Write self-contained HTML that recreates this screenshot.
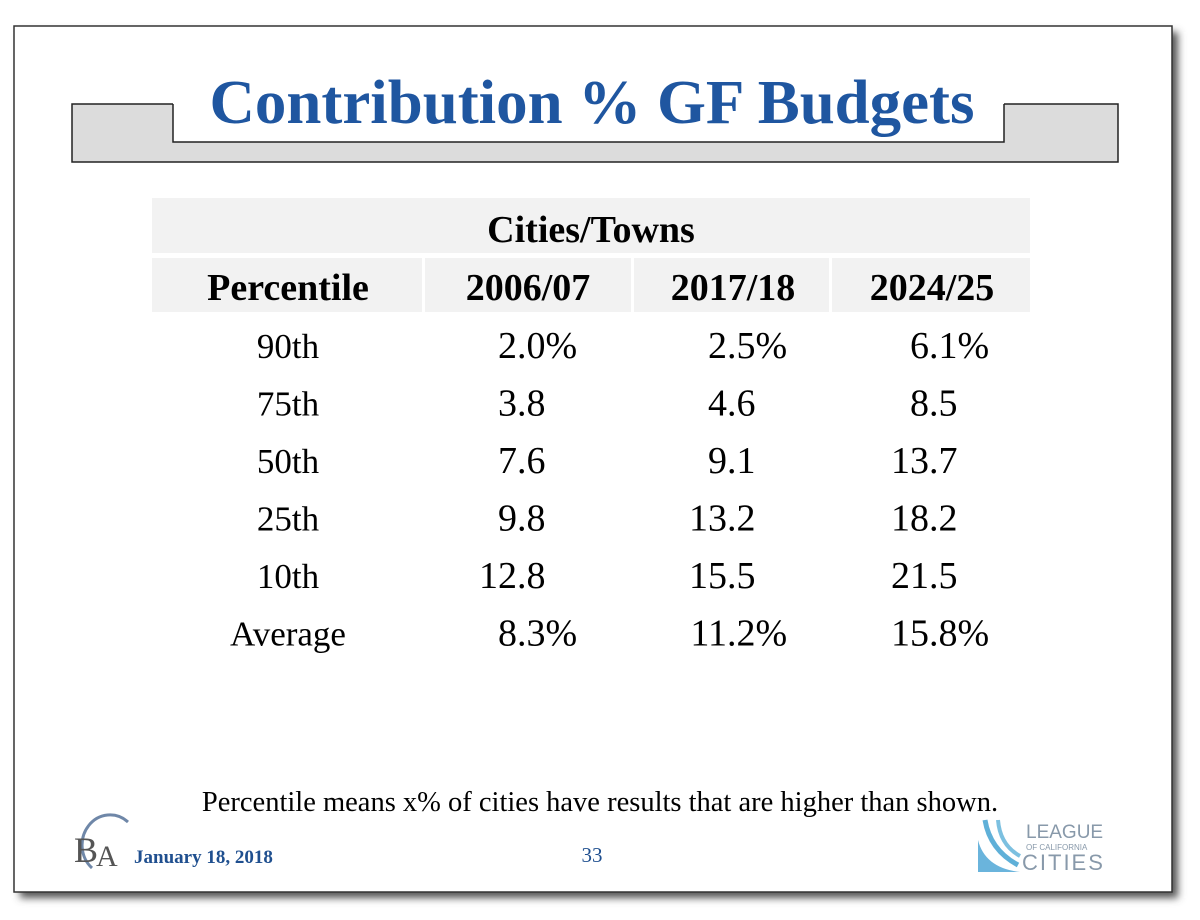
<!DOCTYPE html>
<html><head><meta charset="utf-8"><style>
html,body{margin:0;padding:0;background:#fff;}
svg{display:block;font-family:"Liberation Serif",serif;}
</style></head><body>
<svg width="1200" height="920" viewBox="0 0 1200 920">
  <defs><filter id="sh" x="-5%" y="-5%" width="115%" height="115%"><feGaussianBlur stdDeviation="4"/></filter></defs>
  <rect x="20" y="32" width="1158" height="866" fill="#555" filter="url(#sh)"/>
  <rect x="14" y="26" width="1158" height="866" fill="#fff" stroke="#333" stroke-width="1.5"/>
  <g>
    <rect x="72" y="104" width="1046" height="58" fill="#dcdcdc" stroke="#222" stroke-width="1.5"/>
    <rect x="173" y="60" width="831" height="82" fill="#fff"/>
    <path d="M173 104 V142 H1004 V104" fill="none" stroke="#222" stroke-width="1.5"/>
    <rect x="175" y="60" width="827" height="46" fill="#fff"/>
  </g>
  <text x="592" y="123" text-anchor="middle" font-size="62" font-weight="bold" fill="#1f56a0" textLength="765" lengthAdjust="spacingAndGlyphs">Contribution % GF Budgets</text>
  <g id="tbl">
    <rect x="152" y="198" width="878" height="55" fill="#f2f2f2"/>
    <text x="591" y="242" text-anchor="middle" font-size="38" font-weight="bold">Cities/Towns</text>
    <rect x="152" y="258" width="270" height="54" fill="#f2f2f2"/>
    <rect x="425" y="258" width="206" height="54" fill="#f2f2f2"/>
    <rect x="634" y="258" width="195" height="54" fill="#f2f2f2"/>
    <rect x="832" y="258" width="198" height="54" fill="#f2f2f2"/>
    <text x="288" y="300" text-anchor="middle" font-size="38" font-weight="bold">Percentile</text>
  </g>
  <text x="600" y="811" text-anchor="middle" font-size="28.5">Percentile means x% of cities have results that are higher than shown.</text>
  <g>
    <path d="M92 868 A26 28 0 0 1 128 822" fill="none" stroke="#6f87a8" stroke-width="3"/>
    <text x="74" y="862" font-size="36" fill="#555">B</text>
    <text x="96" y="866" font-size="30" fill="#555">A</text>
  </g>
  <text x="134" y="863" font-size="19" font-weight="bold" fill="#1f4f8f">January 18, 2018</text>
  <text x="592" y="862" text-anchor="middle" font-size="21" fill="#1f4f8f">33</text>
  <g>
    <path d="M985 820 Q990 850 1018 865" fill="none" stroke="#5fb0d8" stroke-width="5"/>
    <path d="M998 820 Q1000 845 1020 856" fill="none" stroke="#7cc0e0" stroke-width="4"/>
    <path d="M978 840 Q985 868 1020 872 L978 872 Z" fill="#6ab4dc"/>
    <text x="1026" y="838" font-family="Liberation Sans,sans-serif" font-size="19" fill="#8899aa">LEAGUE</text>
    <text x="1026" y="850" font-family="Liberation Sans,sans-serif" font-size="8" fill="#8899aa">OF CALIFORNIA</text>
    <text x="1022" y="870" font-family="Liberation Sans,sans-serif" font-size="22" fill="#8899aa" letter-spacing="2">CITIES</text>
  </g>
</svg>
<script>
const years = ["2006/07","2017/18","2024/25"];
const percentiles = ["90th","75th","50th","25th","10th","Average"];
const col2006 = ["2.0%","3.8","7.6","9.8","12.8","8.3%"];
const col2017 = ["2.5%","4.6","9.1","13.2","15.5","11.2%"];
const col2024 = ["6.1%","8.5","13.7","18.2","21.5","15.8%"];
const cols = [col2006, col2017, col2024];
const NS = "http://www.w3.org/2000/svg";
const g = document.getElementById("tbl");
const headerX = [528, 733, 932];
const decX = [517, 727, 929];
const rowY = (i) => 358 + i * 57.5;
function txt(x, y, s, anchor, size, bold) {
  const t = document.createElementNS(NS, "text");
  t.setAttribute("x", x); t.setAttribute("y", y);
  t.setAttribute("text-anchor", anchor);
  t.setAttribute("font-size", size);
  if (bold) t.setAttribute("font-weight", "bold");
  t.textContent = s;
  g.appendChild(t);
  return t;
}
years.forEach((y, j) => {
  const t = txt(headerX[j], 300, y, "middle", 38, true);
  
  
});
percentiles.forEach((p, i) => {
  const t = txt(288, rowY(i), p, "middle", 35, false);
  
  
  cols.forEach((c, j) => {
    const v = c[i];
    const k = v.indexOf(".");
    const a = txt(decX[j], rowY(i), v.slice(0, k), "end", 38, false);
    
    
    const b = txt(decX[j], rowY(i), v.slice(k), "start", 38, false);
    
    
  });
});
</script>
</body></html>
